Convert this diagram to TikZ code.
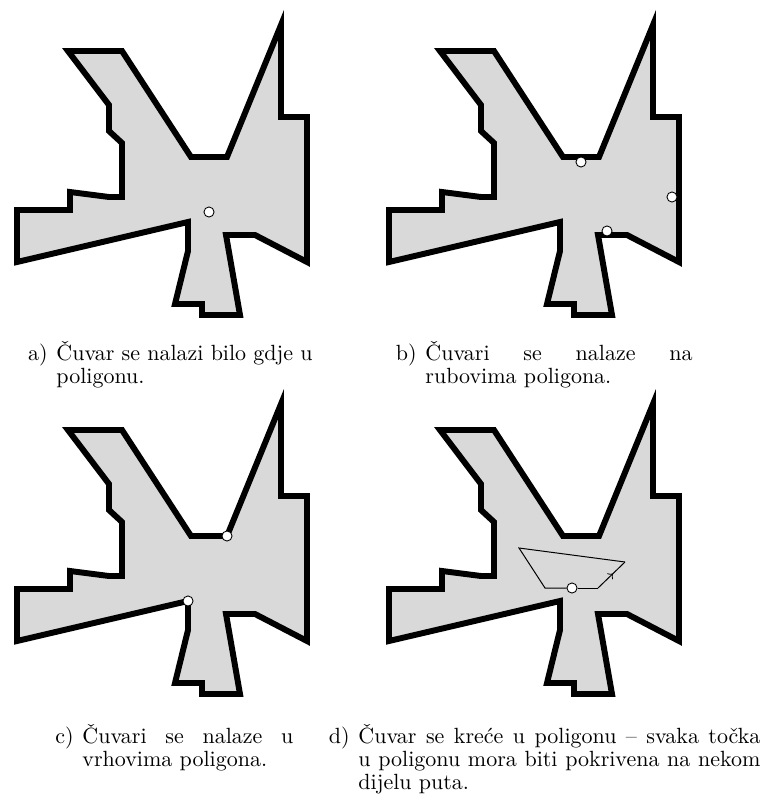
\documentclass[tikz,border=0pt]{standalone}
\usetikzlibrary{decorations.markings}

\begin{document}
\begin{tikzpicture}[
    x=0.4545pt, y=-0.4545pt,
    wall/.style={draw, line width=2.7pt, fill=black!15},
    guard/.style={circle, draw, fill=white, inner sep=0pt, minimum size=4.6pt, line width=0.4pt},
    walk/.style={line width=0.45pt},
    midarrow/.style={walk, postaction={decorate},
        decoration={markings, mark=at position 0.55 with {\arrow{to}}}},
    subcap/.style={anchor=base west, inner sep=0pt, align=justify, font=\fontsize{10}{10.5}\selectfont}
]
    \useasboundingbox (0,0) rectangle (761,800);

    % Galleries
    \foreach \dx/\dy in {0/0, 372/0, 0/379, 372/379}
        \draw[wall, shift={(\dx,\dy)}] (68,51) -- (122,51) -- (191,157) -- (227,157) -- (281,25)
            -- (281,117) -- (307,117) -- (307,262) -- (255,235) -- (226,235) -- (240,315)
            -- (202,315) -- (202,304) -- (175,304) -- (188,251) -- (188,222) -- (17,262)
            -- (17,210) -- (70,210) -- (70,192) -- (109,197) -- (122,197) -- (122,143)
            -- (109,131) -- (109,105) -- cycle;

    % a) anywhere
    \node[guard] (guardA) at (209,212) {};

    % b) on edges
    \node[guard] (guardB1) at (581,162) {};
    \node[guard] (guardB2) at (672,197) {};
    \node[guard] (guardB3) at (607,231) {};

    % c) at vertices
    \node[guard] (guardC1) at (227,536) {};
    \node[guard] (guardC2) at (188,601) {};

    % d) moving guard
    \coordinate (turn1) at (598,588);
    \coordinate (turn2) at (625,562);
    \coordinate (turn3) at (519,548);
    \coordinate (turn4) at (545,588);
    \node[guard] (guardD) at (572,588) {};
    \draw[walk] (guardD) -- (turn1);
    \draw[midarrow] (turn1) -- (turn2);
    \draw[walk] (turn2) -- (turn3) -- (turn4) -- (guardD);

    % Captions
    \node[subcap, text width=116.4pt] (capA) at (56,360)
        {\noindent\llap{a)\hspace{4pt}}Čuvar se nalazi bilo gdje u\linebreak poligonu.};
    \node[subcap, text width=121.4pt] (capB) at (425,360)
        {\noindent\llap{b)\hspace{4pt}}Čuvari se nalaze na\linebreak rubovima poligona.};
    \node[subcap, text width=95.9pt] (capC) at (82,743)
        {\noindent\llap{c)\hspace{4pt}}Čuvari se nalaze u\linebreak vrhovima poligona.};
    \node[subcap, text width=182.7pt] (capD) at (358,743)
        {\noindent\llap{d)\hspace{4pt}}Čuvar se kreće u poligonu -- svaka točka\linebreak
         u poligonu mora biti pokrivena na nekom\linebreak dijelu puta.};
\end{tikzpicture}
\end{document}
